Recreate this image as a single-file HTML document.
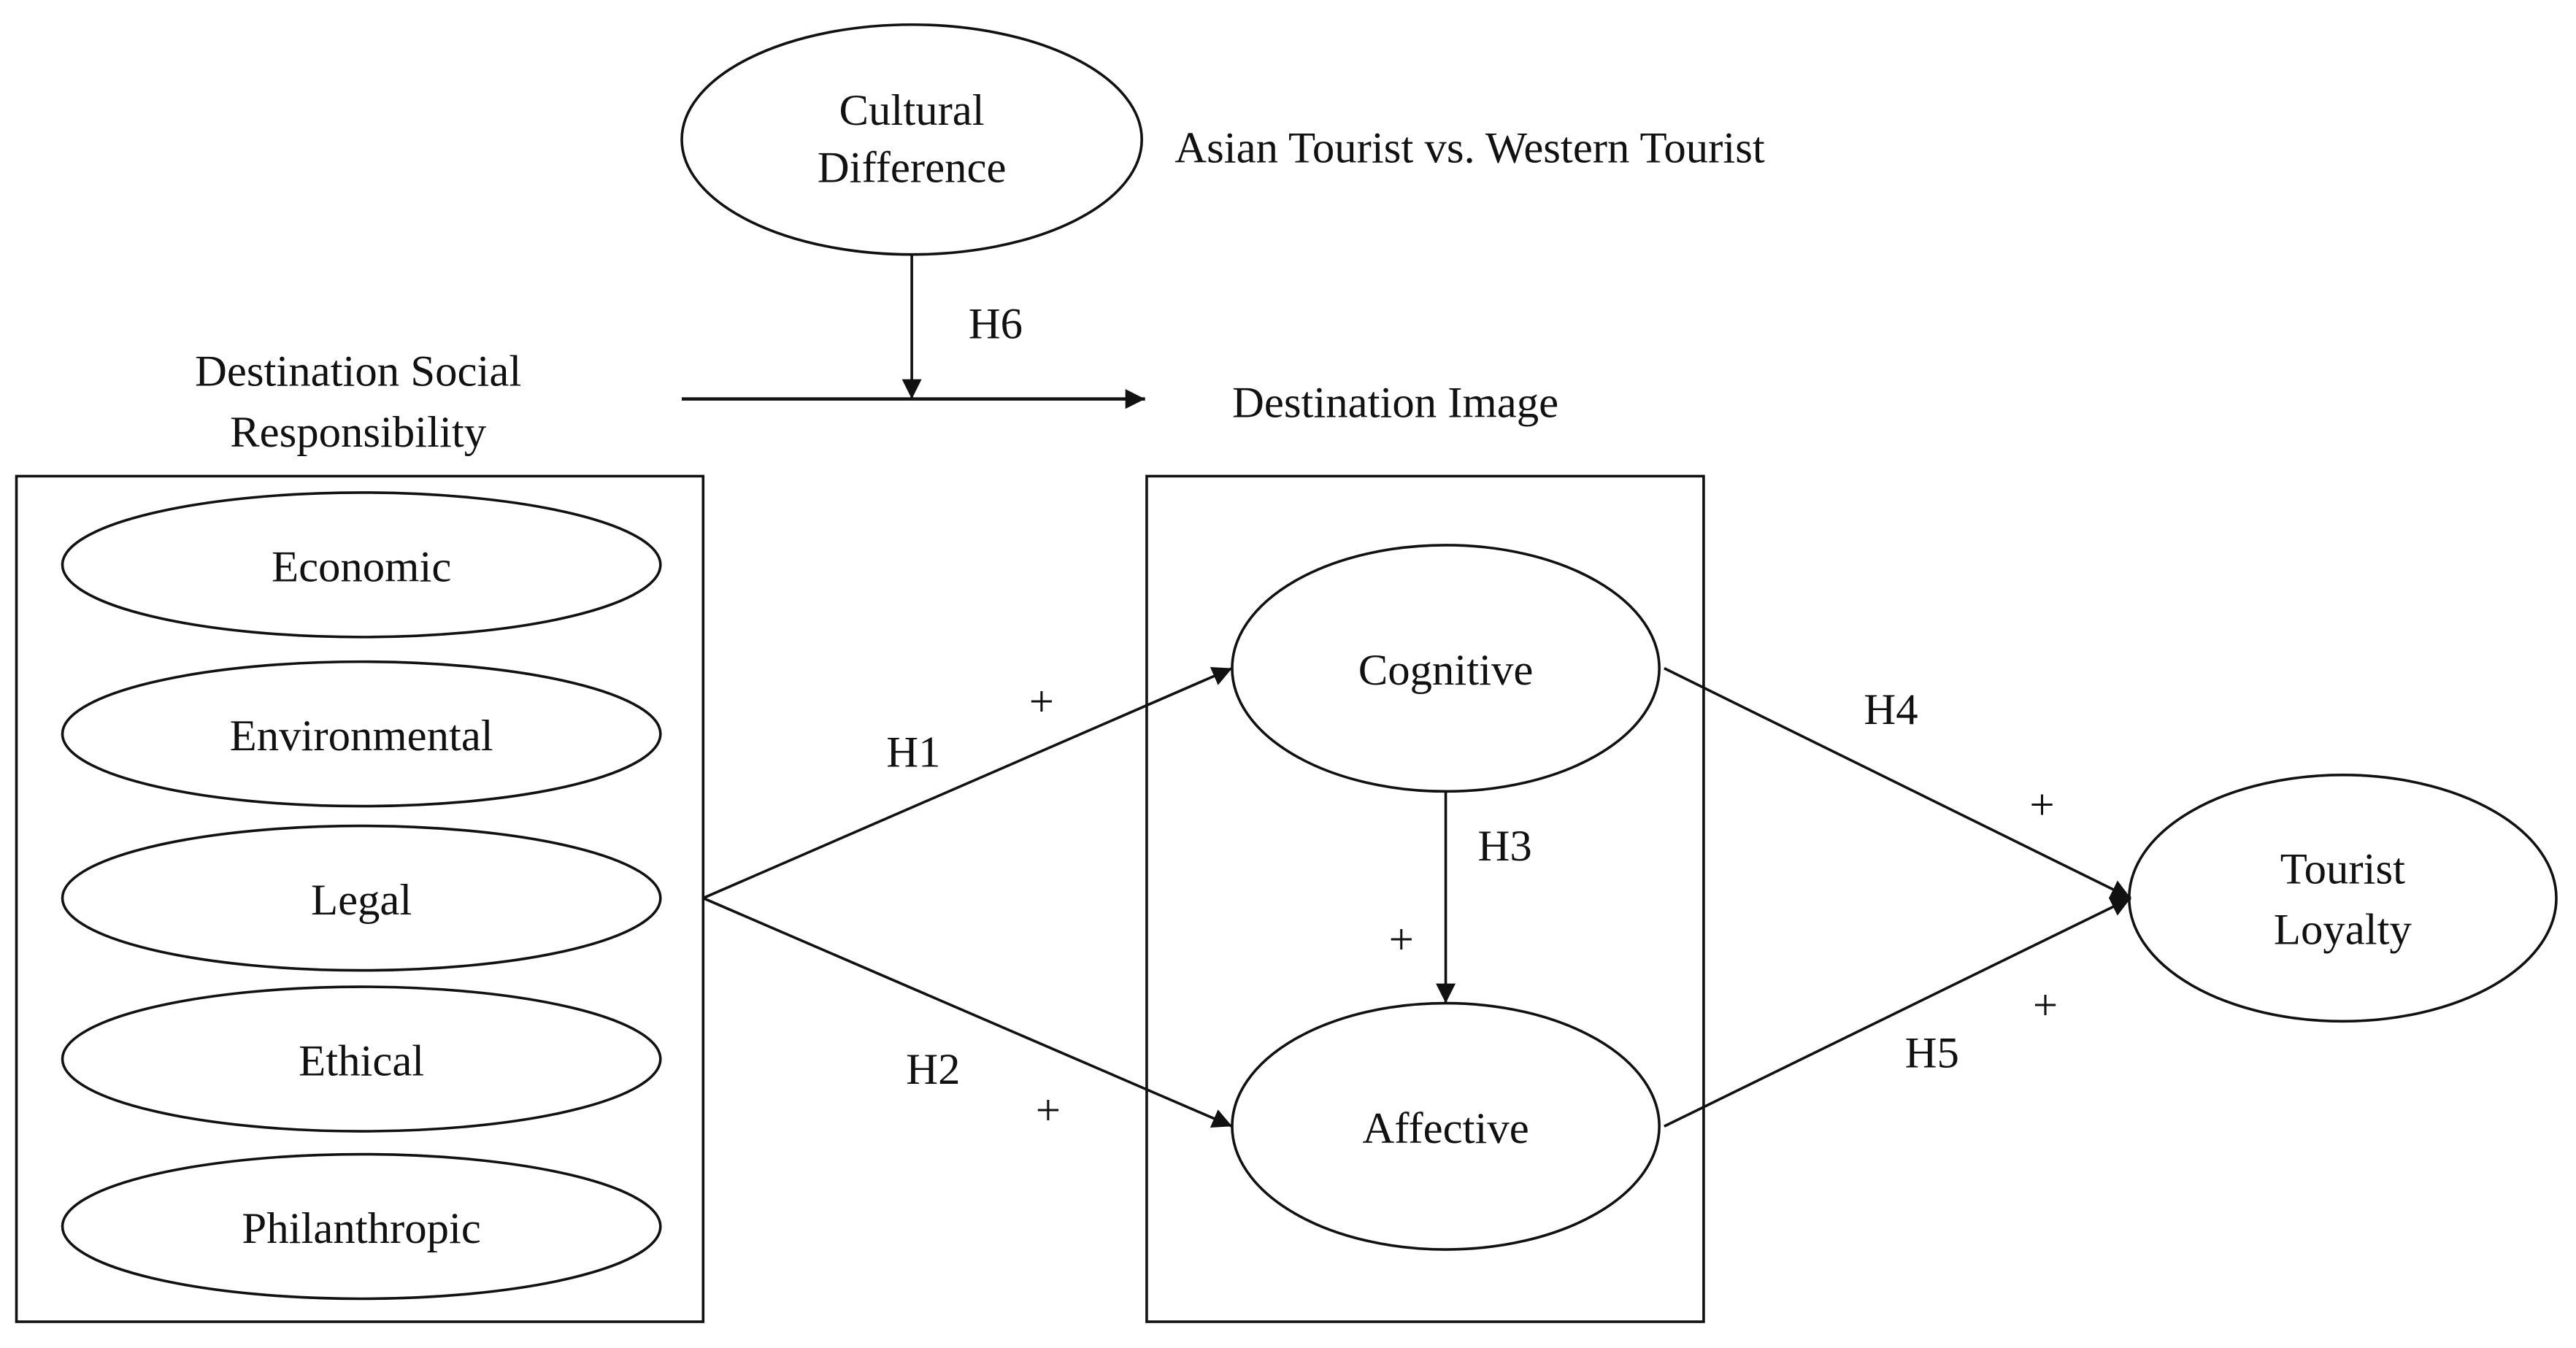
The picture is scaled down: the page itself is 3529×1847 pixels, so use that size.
<!DOCTYPE html>
<html><head><meta charset="utf-8"><style>
html,body{margin:0;padding:0;background:#fff;}
svg{display:block;}
text{font-family:"Liberation Serif",serif;font-size:27px;fill:#111;}
</style></head><body>
<svg width="3529" height="1847" viewBox="0 0 1568 821" preserveAspectRatio="none" xmlns="http://www.w3.org/2000/svg">
<defs>
<marker id="a" viewBox="0 0 10 10" refX="10" refY="5" markerWidth="12" markerHeight="12" markerUnits="userSpaceOnUse" orient="auto">
<path d="M0,0 L10,5 L0,10 z" fill="#111"/></marker>
</defs>
<g fill="none" stroke="#111" stroke-width="1.6">
<ellipse cx="555" cy="85" rx="140" ry="70"/>
<line x1="555" y1="155" x2="555" y2="243" marker-end="url(#a)"/>
<line x1="415" y1="243" x2="697" y2="243" stroke-width="2" marker-end="url(#a)"/>
<rect x="10" y="290" width="418" height="515"/>
<ellipse cx="220" cy="344" rx="182" ry="44"/>
<ellipse cx="220" cy="447" rx="182" ry="44"/>
<ellipse cx="220" cy="547" rx="182" ry="44"/>
<ellipse cx="220" cy="645" rx="182" ry="44"/>
<ellipse cx="220" cy="747" rx="182" ry="44"/>
<rect x="698" y="290" width="339" height="515"/>
<ellipse cx="880" cy="407" rx="130" ry="75"/>
<ellipse cx="880" cy="686" rx="130" ry="75"/>
<ellipse cx="1426" cy="547" rx="130" ry="75"/>
<line x1="428" y1="547" x2="750" y2="407" marker-end="url(#a)"/>
<line x1="428" y1="547" x2="750" y2="686" marker-end="url(#a)"/>
<line x1="880" y1="482" x2="880" y2="611" marker-end="url(#a)"/>
<line x1="1013" y1="407" x2="1297" y2="547" marker-end="url(#a)"/>
<line x1="1013" y1="686" x2="1297" y2="547" marker-end="url(#a)"/>
</g>
<g text-anchor="middle">
<text x="555" y="76">Cultural</text>
<text x="555" y="111">Difference</text>
<text x="218" y="235">Destination Social</text>
<text x="218" y="272">Responsibility</text>
<text x="220" y="354">Economic</text>
<text x="220" y="457">Environmental</text>
<text x="220" y="557">Legal</text>
<text x="220" y="655">Ethical</text>
<text x="220" y="757">Philanthropic</text>
<text x="880" y="417">Cognitive</text>
<text x="880" y="696">Affective</text>
<text x="1426" y="538">Tourist</text>
<text x="1426" y="575">Loyalty</text>
<text x="606" y="206">H6</text>
<text x="556" y="467">H1</text>
<text x="634" y="436">+</text>
<text x="568" y="660">H2</text>
<text x="638" y="685">+</text>
<text x="916" y="524">H3</text>
<text x="853" y="581">+</text>
<text x="1151" y="441">H4</text>
<text x="1243" y="499">+</text>
<text x="1176" y="650">H5</text>
<text x="1245" y="621">+</text>
</g>
<text x="715" y="99">Asian Tourist vs. Western Tourist</text>
<text x="750" y="254">Destination Image</text>
</svg>
</body></html>
